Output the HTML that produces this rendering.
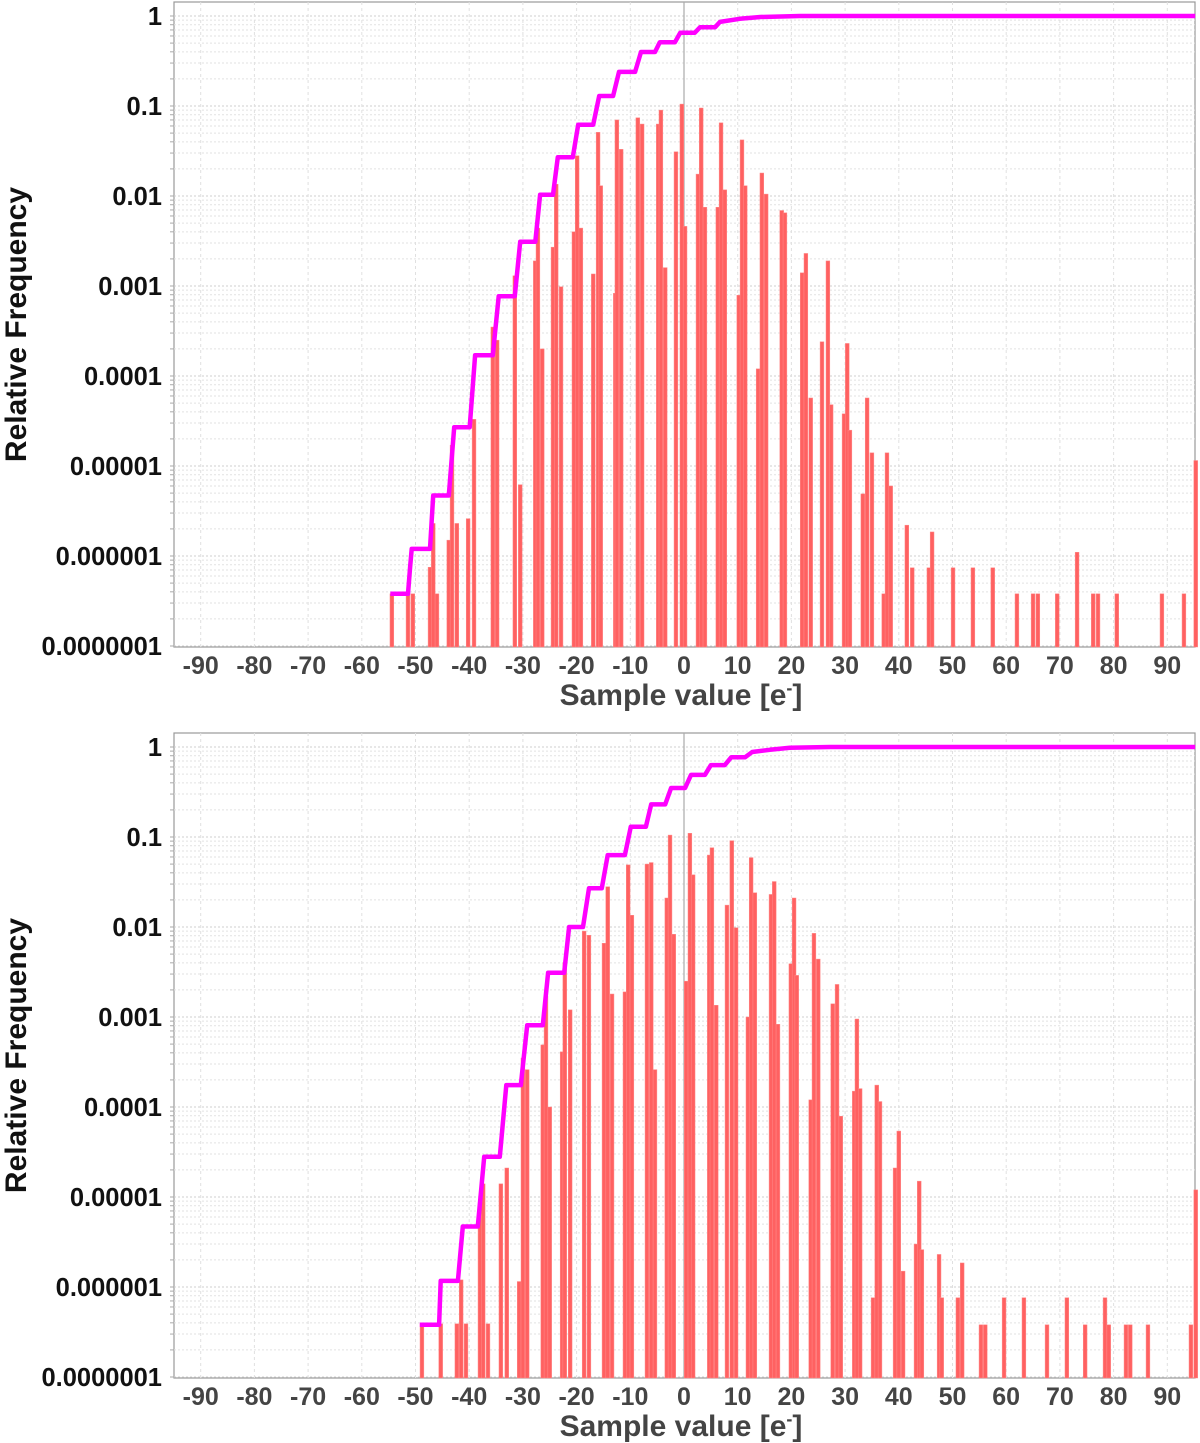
<!DOCTYPE html>
<html><head><meta charset="utf-8">
<style>
html,body{margin:0;padding:0;background:#fff;}
svg{display:block;font-family:"Liberation Sans",sans-serif;}
</style></head>
<body>
<svg id="chart" width="1200" height="1443" viewBox="0 0 1200 1443" xmlns="http://www.w3.org/2000/svg"></svg>
<script>
// ---------- data: top panel ----------
const topBarX = [-54.4,-51.4,-50.5,-47.3,-46.7,-46.0,-43.8,-43.2,-42.3,-40.2,-39.1,-35.6,-34.8,-31.5,-30.5,-27.7,-27.2,-26.4,-24.4,-23.8,-22.9,-20.5,-19.9,-19.2,-16.9,-16.0,-15.5,-12.8,-12.5,-11.7,-8.6,-7.8,-4.8,-4.3,-3.5,-1.5,-0.4,0.2,2.6,3.2,3.9,6.3,6.9,7.6,10.2,10.8,11.4,13.8,14.5,15.3,18.2,18.8,22.0,22.7,23.6,25.7,26.8,27.4,29.8,30.4,30.9,33.3,34.1,35.0,37.2,37.8,38.5,41.5,42.5,45.6,46.2,50.1,53.8,57.5,62.0,65.0,65.9,69.5,73.2,76.2,77.1,80.6,89.0,93.1,95.3];
const topBarFreq = [3.8e-7,3.8e-7,3.8e-7,7.5e-7,2.3e-6,3.8e-7,1.5e-6,1.7e-5,2.3e-6,2.6e-6,3.3e-5,3.5e-4,2.5e-4,1.3e-3,6.2e-6,1.9e-3,4.4e-3,2.0e-4,2.7e-3,1.35e-2,9.8e-4,4.0e-3,2.8e-2,4.4e-3,1.36e-3,5.1e-2,1.3e-2,8.3e-4,7.0e-2,3.3e-2,7.4e-2,6.3e-2,6.3e-2,9.0e-2,1.6e-3,3.1e-2,0.105,4.6e-3,1.75e-2,9.5e-2,7.5e-3,7.5e-3,6.5e-2,1.17e-2,7.9e-4,4.2e-2,1.3e-2,1.2e-4,1.8e-2,1.05e-2,6.9e-3,6.5e-3,1.4e-3,2.3e-3,5.7e-5,2.4e-4,1.9e-3,4.8e-5,3.8e-5,2.3e-4,2.5e-5,4.9e-6,5.7e-5,1.4e-5,3.8e-7,1.4e-5,6.0e-6,2.2e-6,7.4e-7,7.4e-7,1.85e-6,7.4e-7,7.4e-7,7.4e-7,3.8e-7,3.8e-7,3.8e-7,3.8e-7,1.1e-6,3.8e-7,3.8e-7,3.8e-7,3.8e-7,3.8e-7,1.15e-5];
const topCdfX = [-54.7,-51.4,-51.0,-50.7,-47.3,-46.7,-43.8,-42.8,-39.9,-38.9,-35.6,-34.5,-31.5,-30.5,-27.7,-26.8,-24.4,-23.5,-20.7,-19.7,-16.9,-15.8,-13.2,-12.1,-9.1,-8.0,-5.4,-4.5,-1.7,-0.7,2.0,3.0,5.8,6.7,10.4,14.2,21.6,95.2];
const topCdfY = [3.8e-7,3.8e-7,7.5e-7,1.2e-6,1.2e-6,4.7e-6,4.7e-6,2.7e-5,2.7e-5,1.7e-4,1.7e-4,7.7e-4,7.7e-4,3.1e-3,3.1e-3,1.03e-2,1.03e-2,2.7e-2,2.7e-2,6.2e-2,6.2e-2,0.129,0.129,0.239,0.239,0.398,0.398,0.51,0.51,0.65,0.65,0.75,0.75,0.86,0.93,0.975,1.0,1.0];
// ---------- data: bottom panel ----------
const botBarX = [-48.8,-45.3,-42.3,-41.5,-40.6,-38.0,-37.4,-36.5,-34.1,-33.0,-30.7,-30.0,-29.2,-26.3,-25.7,-25.0,-22.7,-22.2,-21.2,-18.6,-17.7,-14.9,-14.2,-13.4,-11.0,-10.4,-9.7,-6.9,-6.1,-5.4,-3.2,-2.6,-1.9,0.4,1.1,1.7,4.7,5.2,6.0,8.0,8.9,9.7,11.9,12.5,13.2,16.2,16.8,17.5,19.9,20.5,21.0,23.6,24.2,25.0,27.7,28.5,29.2,31.7,32.2,32.8,35.2,35.9,36.5,39.3,40.0,40.8,43.2,43.8,44.3,47.5,48.0,51.0,51.8,55.3,56.1,59.6,63.3,67.6,71.3,74.7,78.4,79.1,82.3,83.1,86.4,94.4,95.3];
const botBarFreq = [3.9e-7,3.9e-7,3.9e-7,1.2e-6,3.9e-7,8e-6,1.4e-5,3.9e-7,1.4e-5,2.1e-5,1.15e-6,3.5e-4,2.6e-4,4.9e-4,1.7e-3,1e-4,4.1e-4,4e-3,1.2e-3,9e-3,8.1e-3,6.6e-3,2.8e-2,1.8e-3,1.9e-3,4.9e-2,1.35e-2,5e-2,5.2e-2,2.6e-4,2.1e-2,0.105,8.3e-3,2.5e-3,0.11,3.8e-2,6.3e-2,7.6e-2,1.35e-3,1.75e-2,9.1e-2,9.8e-3,1.0e-3,5.9e-2,2.4e-2,2.3e-2,3.2e-2,8.3e-4,3.9e-3,2.1e-2,2.9e-3,1.2e-4,8.5e-3,4.4e-3,1.4e-3,2.3e-3,7.9e-5,1.5e-4,9.5e-4,1.6e-4,7.6e-7,1.75e-4,1.15e-4,2.1e-5,5.4e-5,1.5e-6,3.0e-6,1.5e-5,2.6e-6,2.3e-6,7.6e-7,7.6e-7,1.85e-6,3.8e-7,3.8e-7,7.6e-7,7.6e-7,3.8e-7,7.6e-7,3.8e-7,7.6e-7,3.8e-7,3.8e-7,3.8e-7,3.8e-7,3.8e-7,1.2e-5];
const botCdfX = [-49.2,-45.6,-45.3,-42.1,-41.2,-38.4,-37.2,-34.3,-33.1,-30.4,-29.2,-26.3,-25.3,-22.3,-21.4,-18.8,-17.7,-15.3,-14.2,-11.0,-9.9,-7.1,-6.1,-3.5,-2.4,0.2,1.3,3.9,5.0,7.6,8.8,11.4,12.7,16.0,19.7,27.2,95.2];
const botCdfY = [3.8e-7,3.8e-7,1.17e-6,1.17e-6,4.7e-6,4.7e-6,2.8e-5,2.8e-5,1.75e-4,1.75e-4,8.1e-4,8.1e-4,3.1e-3,3.1e-3,1.0e-2,1.0e-2,2.7e-2,2.7e-2,6.3e-2,6.3e-2,0.13,0.13,0.23,0.23,0.35,0.35,0.49,0.49,0.63,0.63,0.77,0.77,0.88,0.93,0.98,1.0,1.0];
// ---------- ticks ----------
const xTickVals = [-90,-80,-70,-60,-50,-40,-30,-20,-10,0,10,20,30,40,50,60,70,80,90];
const yTickVals = [1,0.1,0.01,0.001,0.0001,0.00001,0.000001,0.0000001];
const yTickLabels = ["1","0.1","0.01","0.001","0.0001","0.00001","0.000001","0.0000001"];

const NS = "http://www.w3.org/2000/svg";
const svg = document.getElementById('chart');
function mk(tag, attrs, parent){
  const e = document.createElementNS(NS, tag);
  for (const k in attrs) e.setAttribute(k, attrs[k]);
  (parent||svg).appendChild(e);
  return e;
}
const left = 174, right = 1195;
function xs(v){ return 684 + v*5.37; }

function panel(name, top, bottom, y1, barX, barF, cdfX, cdfY){
  const ys = v => y1 - 90*Math.log10(v);
  const g = mk('g', {});
  
  
  const bg = mk('rect', {x:left, y:top, width:right-left, height:bottom-top, fill:'#fff', stroke:'#999', 'stroke-width':1.2}, g);
  
  
  const grid = mk('g', {}, g);
  
  
  for (let d=0; d>=-7; d--){
    for (let m=1; m<=9; m++){
      const v = m*Math.pow(10,d);
      const y = ys(v);
      if (y < top || y > bottom) continue;
      mk('line', {x1:left, x2:right, y1:y, y2:y, stroke: m===1?'#cfcfcf':'#e2e2e2', 'stroke-width':1, 'stroke-dasharray':'2,2'}, grid);
      mk('line', {x1:left-4, x2:left, y1:y, y2:y, stroke:'#aaa', 'stroke-width':1}, grid);
    }
  }
  xTickVals.forEach(v => {
    const x = xs(v);
    mk('line', {x1:x, x2:x, y1:top, y2:bottom, stroke:'#e0e0e0', 'stroke-width':1, 'stroke-dasharray':'3,3'}, grid);
  });
  const zl = mk('line', {x1:xs(0), x2:xs(0), y1:top, y2:bottom, stroke:'#aaa', 'stroke-width':1.2}, g);
  
  
  const bars = mk('g', {}, g);
  
  
  barX.forEach((v,i) => {
    const x = xs(v), y = Math.max(top, ys(barF[i]));
    const r = mk('rect', {x:x-1.9, y:y, width:3.8, height:bottom-y, fill:'#ff6161', stroke:'#ff8a8a', 'stroke-width':0.5}, bars);
    
    
  });
  let pts = cdfX.map((v,i) => xs(v).toFixed(1)+','+ys(cdfY[i]).toFixed(1)).join(' ');
  const pl = mk('polyline', {points:pts, fill:'none', stroke:'#ff00ff', 'stroke-width':4.5, 'stroke-linejoin':'round'}, g);
  
  
  yTickVals.forEach((v,i) => {
    const t = mk('text', {x:162, y:ys(v)+9, 'text-anchor':'end', 'font-size':25.5, 'font-weight':'bold', fill:'#111'}, g);
    t.textContent = yTickLabels[i];
    
    
  });
  xTickVals.forEach(v => {
    const t = mk('text', {x:xs(v), y:bottom+27, 'text-anchor':'middle', 'font-size':25, 'font-weight':'bold', fill:'#444'}, g);
    t.textContent = String(v);
    
    
  });
  const xt = mk('text', {x:681, y:bottom+58, 'text-anchor':'middle', 'font-size':30, 'font-weight':'bold', fill:'#444'}, g);
  xt.innerHTML = 'Sample value [e<tspan dy="-11" font-size="18">-</tspan><tspan dy="11">]</tspan>';
  
  
  const cy = (top+bottom)/2;
  const yt = mk('text', {x:0, y:0, transform:'translate(26,'+cy+') rotate(-90)', 'text-anchor':'middle', 'font-size':30, 'font-weight':'bold', fill:'#111'}, g);
  yt.textContent = 'Relative Frequency';
  
  
}
panel('top-histogram', 2, 647, 16, topBarX, topBarFreq, topCdfX, topCdfY);
panel('bottom-histogram', 733, 1378, 747, botBarX, botBarFreq, botCdfX, botCdfY);
</script>
</body></html>
